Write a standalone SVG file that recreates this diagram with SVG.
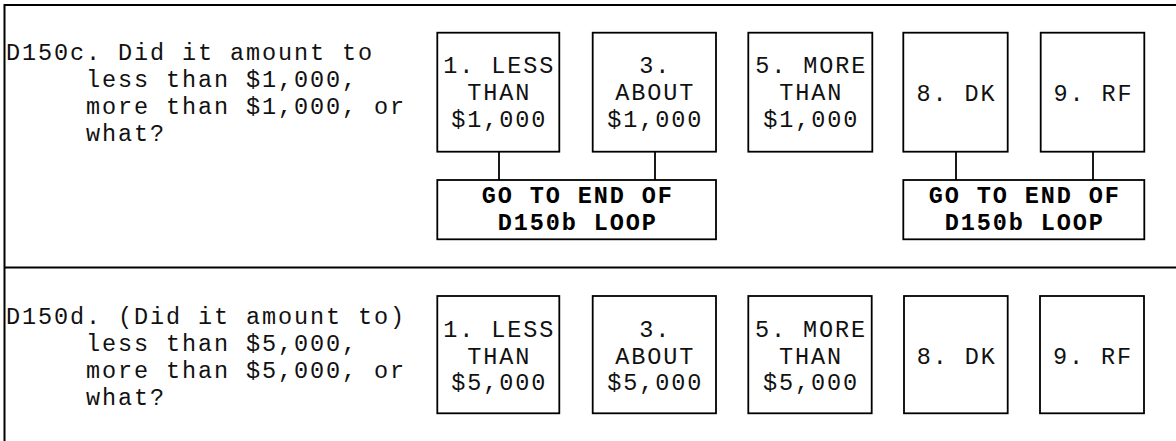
<svg xmlns="http://www.w3.org/2000/svg" width="1176" height="441" viewBox="0 0 1176 441">
<style>
.frame{stroke:#000;stroke-width:2;fill:none}
.box{stroke:#000;stroke-width:1.8;fill:#fff}
.conn{stroke:#000;stroke-width:1.8;fill:none}
text{font-family:"Liberation Mono","Courier New",monospace;font-size:23.5px;letter-spacing:1.9px;fill:#111}
.c{text-anchor:middle}
.b{font-weight:bold;fill:#000}
</style>
<rect width="1176" height="441" fill="#fff"/>
<g id="frame">
<line class="frame" x1="4.5" y1="5" x2="1176" y2="5"/>
<line class="frame" x1="4.5" y1="4" x2="4.5" y2="441"/>
<line class="frame" x1="4.5" y1="267.5" x2="1176" y2="267.5"/>
</g>
<g id="q-d150c">
<text x="6" y="60">D150c. Did it amount to</text>
<text x="86" y="87">less than $1,000,</text>
<text x="86" y="114">more than $1,000, or</text>
<text x="86" y="141">what?</text>
</g>
<g id="connectors">
<line class="conn" x1="499" y1="152" x2="499" y2="180"/>
<line class="conn" x1="655" y1="152" x2="655" y2="180"/>
<line class="conn" x1="956" y1="152" x2="956" y2="180"/>
<line class="conn" x1="1093" y1="152" x2="1093" y2="180"/>
</g>
<g id="c1">
<rect class="box" x="437.3" y="32.7" width="122" height="119"/>
<text class="c" x="499.3" y="73">1. LESS</text>
<text class="c" x="499.3" y="100">THAN</text>
<text class="c" x="499.3" y="127">$1,000</text>
</g>
<g id="c3">
<rect class="box" x="592.7" y="32.7" width="123.3" height="119"/>
<text class="c" x="655.3" y="73">3.</text>
<text class="c" x="655.3" y="100">ABOUT</text>
<text class="c" x="655.3" y="127">$1,000</text>
</g>
<g id="c5">
<rect class="box" x="748.3" y="32.7" width="124" height="119"/>
<text class="c" x="811.3" y="73">5. MORE</text>
<text class="c" x="811.3" y="100">THAN</text>
<text class="c" x="811.3" y="127">$1,000</text>
</g>
<g id="c8">
<rect class="box" x="903.3" y="32.7" width="104.4" height="119"/>
<text class="c" x="956.5" y="101">8. DK</text>
</g>
<g id="c9">
<rect class="box" x="1040.7" y="32.7" width="103.6" height="119"/>
<text class="c" x="1093.5" y="101">9. RF</text>
</g>
<g id="go1">
<rect class="box" x="437.3" y="180" width="278.7" height="59.3"/>
<text class="c b" x="577.7" y="203">GO TO END OF</text>
<text class="c b" x="577.7" y="230">D150b LOOP</text>
</g>
<g id="go2">
<rect class="box" x="903.3" y="180" width="241" height="59.3"/>
<text class="c b" x="1024.8" y="203">GO TO END OF</text>
<text class="c b" x="1024.8" y="230">D150b LOOP</text>
</g>
<g id="q-d150d">
<text x="6" y="324">D150d. (Did it amount to)</text>
<text x="86" y="351">less than $5,000,</text>
<text x="86" y="378">more than $5,000, or</text>
<text x="86" y="405">what?</text>
</g>
<g id="d1">
<rect class="box" x="437.3" y="296" width="122" height="117.3"/>
<text class="c" x="499.3" y="337">1. LESS</text>
<text class="c" x="499.3" y="364">THAN</text>
<text class="c" x="499.3" y="390">$5,000</text>
</g>
<g id="d3">
<rect class="box" x="592.7" y="296" width="123.3" height="117.3"/>
<text class="c" x="655.3" y="337">3.</text>
<text class="c" x="655.3" y="364">ABOUT</text>
<text class="c" x="655.3" y="390">$5,000</text>
</g>
<g id="d5">
<rect class="box" x="748.3" y="296" width="123.4" height="117.3"/>
<text class="c" x="811" y="337">5. MORE</text>
<text class="c" x="811" y="364">THAN</text>
<text class="c" x="811" y="390">$5,000</text>
</g>
<g id="d8">
<rect class="box" x="904" y="296" width="103.7" height="117.3"/>
<text class="c" x="956.8" y="364">8. DK</text>
</g>
<g id="d9">
<rect class="box" x="1040" y="296" width="104" height="117.3"/>
<text class="c" x="1093" y="364">9. RF</text>
</g>
</svg>
